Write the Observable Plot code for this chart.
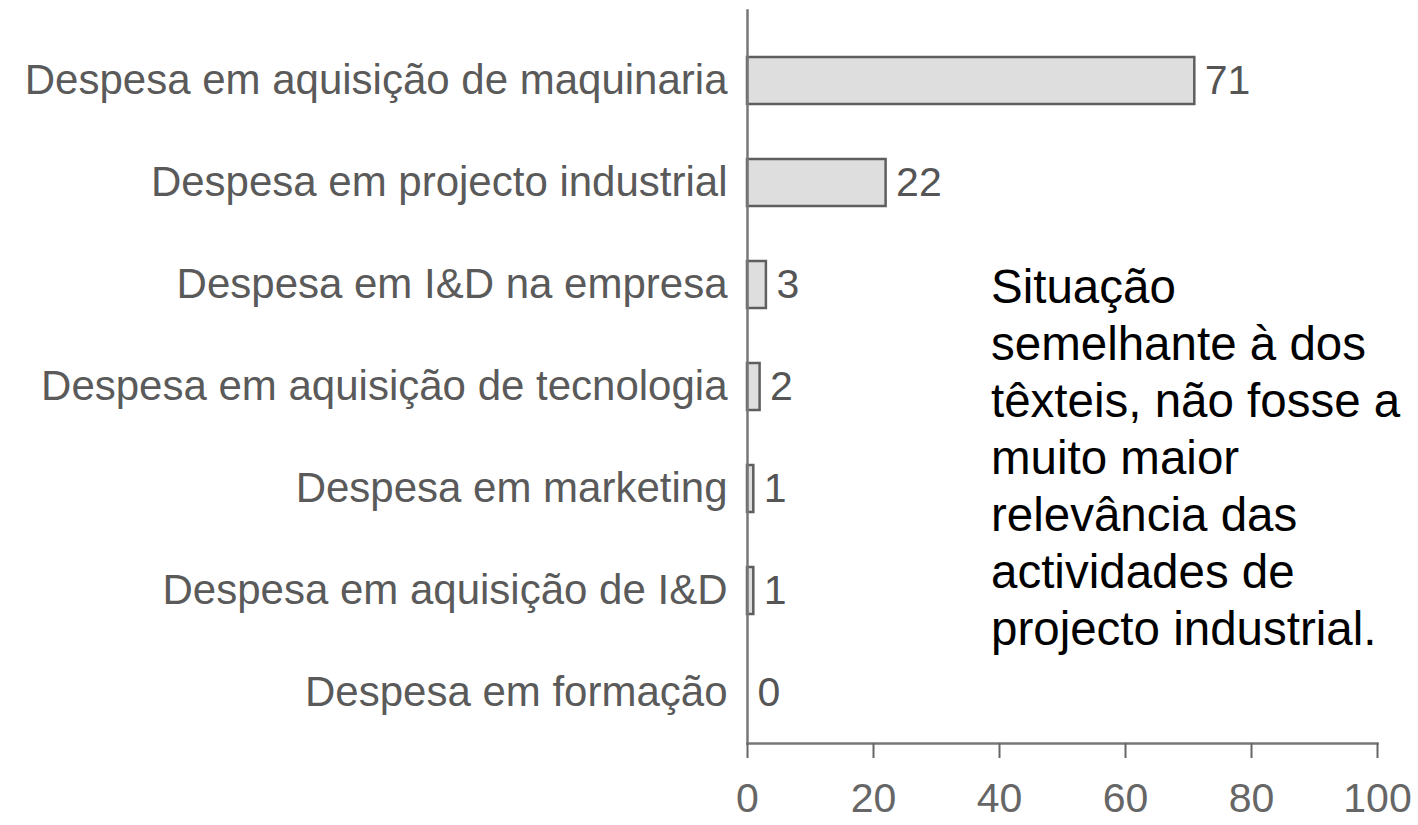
<!DOCTYPE html>
<html>
<head>
<meta charset="utf-8">
<script src="https://cdn.jsdelivr.net/npm/d3@7"></script>
<script src="https://cdn.jsdelivr.net/npm/@observablehq/plot@0.6"></script>
<style>
  html, body { margin: 0; padding: 0; background: #fff; }
  #wrap { position: relative; width: 1418px; height: 825px; overflow: hidden; }
  #note { position: absolute; left: 991px; top: 258px; font-family: "Liberation Sans", Arial, sans-serif; font-size: 47.5px; line-height: 57px; color: #000; white-space: nowrap; }
</style>
</head>
<body>
<div id="wrap"><div id="note"></div></div>
<script>
const categories = [
  "Despesa em aquisição de maquinaria",
  "Despesa em projecto industrial",
  "Despesa em I&D na empresa",
  "Despesa em aquisição de tecnologia",
  "Despesa em marketing",
  "Despesa em aquisição de I&D",
  "Despesa em formação"
];
const values = [71, 22, 3, 2, 1, 1, 0];
const xTicks = [0, 20, 40, 60, 80, 100];
const noteLines = [
  "Situação",
  "semelhante à dos",
  "têxteis, não fosse a",
  "muito maior",
  "relevância das",
  "actividades de",
  "projecto industrial."
];

const data = categories.map((c, i) => ({category: c, value: values[i]}));

const chart = Plot.plot({
  width: 1418,
  height: 825,
  marginLeft: 747,
  marginRight: 41,
  marginTop: 10,
  marginBottom: 82,
  style: {fontFamily: "'Liberation Sans', Arial, sans-serif", background: "#fff"},
  x: {domain: [0, 100], ticks: xTicks},
  y: {domain: categories, range: [29, 744], paddingInner: 0.54, paddingOuter: 0.27},
  marks: [
    Plot.barX(data, {x: "value", y: "category", fill: "#dedede", stroke: "#5e5e5e", strokeWidth: 2.5}),
    Plot.text(data, {x: "value", y: "category", text: d => String(d.value), dx: 10, textAnchor: "start", fontSize: 41, fill: "#555"}),
    Plot.frame({anchor: "left", stroke: "#777", strokeWidth: 2.5}),
    Plot.frame({anchor: "bottom", stroke: "#777", strokeWidth: 2.5}),
    Plot.axisX({ticks: xTicks, tickSize: 15, tickPadding: 24, fontSize: 41, color: "#666", strokeWidth: 2, label: null}),
    Plot.axisY({tickSize: 0, tickPadding: 20, fontSize: 42, color: "#5a5a5a", label: null})
  ]
});

const wrap = document.getElementById("wrap");
wrap.insertBefore(chart, wrap.firstChild);
document.getElementById("note").innerHTML = noteLines.join("<br>");
</script>
</body>
</html>
